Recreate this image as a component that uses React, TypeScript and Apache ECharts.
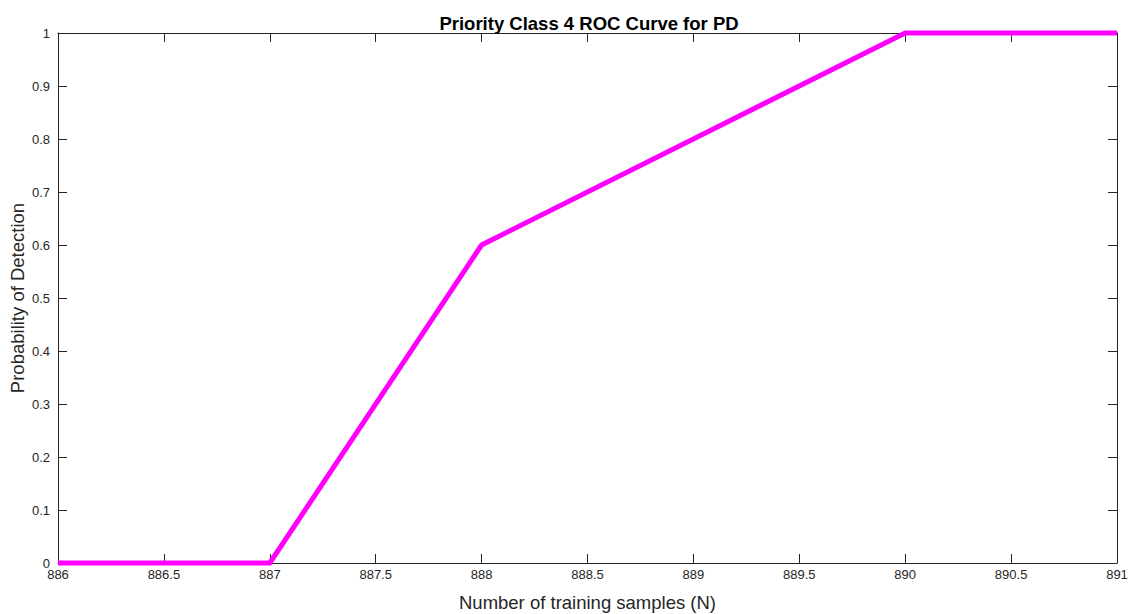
import React, { useEffect, useRef } from "react";
import * as echarts from "echarts";

const xValues = [886, 887, 888, 889, 890, 891];
const pdValues = [0, 0, 0.6, 0.8, 1, 1];
const titleText = "Priority Class 4 ROC Curve for PD";
const xName = "Number of training samples (N)";
const yName = "Probability of Detection";

const axisColor = "#262626";
const font = "'Liberation Sans', Arial, Helvetica, sans-serif";

export default function App() {
  const ref = useRef<HTMLDivElement>(null);
  useEffect(() => {
    if (!ref.current) return;
    const chart = echarts.init(ref.current, null, { renderer: "svg" });
    const tickStyle = { show: true, inside: true, length: 9, lineStyle: { color: axisColor, width: 1 } };
    chart.setOption({
      animation: false,
      backgroundColor: "#ffffff",
      title: {
        text: titleText,
        left: 584,
        textAlign: "center",
        top: 9,
        textStyle: { fontFamily: font, fontSize: 18.5, fontWeight: "bold", color: "#000000" },
      },
      grid: { left: 58, right: 17, top: 33, bottom: 51, containLabel: false, outerBoundsMode: "none" },
      xAxis: [
        {
          type: "value",
          min: 886,
          max: 891,
          interval: 0.5,
          name: xName,
          nameLocation: "middle",
          nameGap: 30,
          nameMoveOverlap: false,
          nameTextStyle: { fontFamily: font, fontSize: 18.5, color: axisColor },
          axisLine: { show: true, onZero: false, lineStyle: { color: axisColor, width: 1 } },
          axisTick: tickStyle,
          axisLabel: { fontFamily: font, fontSize: 13, color: axisColor, margin: 5 },
          splitLine: { show: false },
        },
        {
          type: "value",
          position: "top",
          min: 886,
          max: 891,
          interval: 0.5,
          axisLine: { show: true, onZero: false, lineStyle: { color: axisColor, width: 1 } },
          axisTick: tickStyle,
          axisLabel: { show: false },
          splitLine: { show: false },
        },
      ],
      yAxis: [
        {
          type: "value",
          min: 0,
          max: 1,
          interval: 0.1,
          name: yName,
          nameLocation: "middle",
          nameGap: 31,
          nameMoveOverlap: false,
          nameTextStyle: { fontFamily: font, fontSize: 18.5, color: axisColor },
          axisLine: { show: true, onZero: false, lineStyle: { color: axisColor, width: 1 } },
          axisTick: tickStyle,
          axisLabel: { fontFamily: font, fontSize: 13, color: axisColor, margin: 8 },
          splitLine: { show: false },
        },
        {
          type: "value",
          position: "right",
          min: 0,
          max: 1,
          interval: 0.1,
          axisLine: { show: true, onZero: false, lineStyle: { color: axisColor, width: 1 } },
          axisTick: tickStyle,
          axisLabel: { show: false },
          splitLine: { show: false },
        },
      ],
      series: [
        {
          type: "line",
          data: xValues.map((x, i) => [x, pdValues[i]]),
          showSymbol: false,
          symbol: "none",
          clip: false,
          lineStyle: { color: "#ff00ff", width: 5, cap: "butt", join: "miter" },
          itemStyle: { color: "#ff00ff" },
        },
      ],
    });
    return () => chart.dispose();
  }, []);
  return <div ref={ref} style={{ width: 1134, height: 614, position: "absolute", left: 0, top: 0 }} />;
}
